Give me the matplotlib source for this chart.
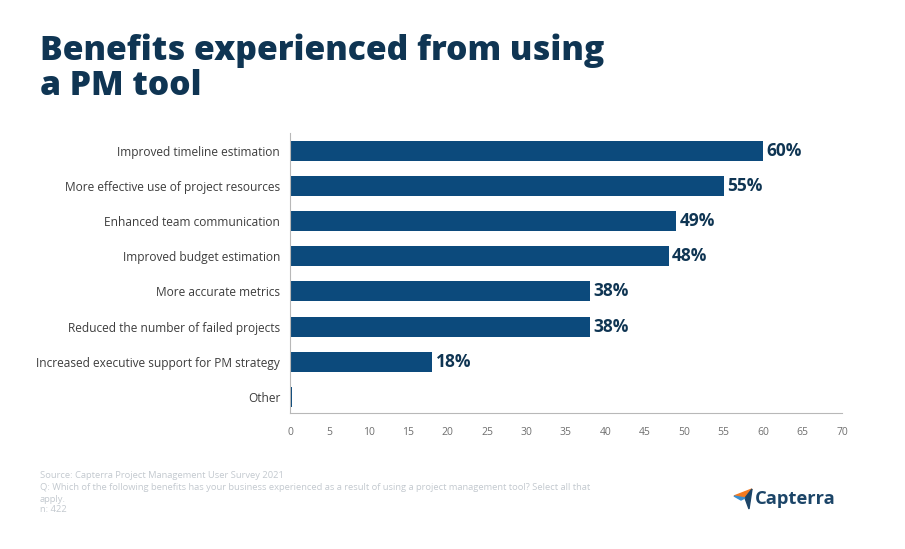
import matplotlib.pyplot as plt
from matplotlib.patches import Polygon

# Data
categories = [
    'Improved timeline estimation',
    'More effective use of project resources',
    'Enhanced team communication',
    'Improved budget estimation',
    'More accurate metrics',
    'Reduced the number of failed projects',
    'Increased executive support for PM strategy',
    'Other',
]
values = [60, 55, 49, 48, 38, 38, 18, 0.3]
value_labels = ['60%', '55%', '49%', '48%', '38%', '38%', '18%', '']
x_ticks = list(range(0, 75, 5))

NAVY = '#0f3553'
BAR = '#0c4a7c'
FONT = 'Open Sans'

plt.rcParams['font.family'] = [FONT, 'DejaVu Sans']

fig = plt.figure(figsize=(9.05, 5.49), dpi=100)
fig.patch.set_facecolor('white')

ax = fig.add_axes([0.3204, 0.2477, 0.61, 0.51])
y = list(range(len(categories)))
ax.barh(y, values, height=0.57, color=BAR)

for yi, v, lab in zip(y, values, value_labels):
    if lab:
        ax.text(v + 0.45, yi, lab, va='center', ha='left', fontsize=12.5,
                fontweight='bold', color=NAVY)

ax.set_xlim(0, 70)
ax.set_ylim(7.46, -0.51)
ax.set_xticks(x_ticks)
ax.set_yticks(y)
ax.set_yticklabels(categories, fontsize=8.6, color='#3d3d3d')
ax.tick_params(axis='x', labelsize=7.5, colors='#6f6f6f', length=0, pad=10)
ax.tick_params(axis='y', length=0, pad=7)

ax.spines['top'].set_visible(False)
ax.spines['right'].set_visible(False)
ax.spines['left'].set_color('#b8b8b8')
ax.spines['bottom'].set_color('#b8b8b8')
ax.spines['left'].set_linewidth(0.8)
ax.spines['bottom'].set_linewidth(0.8)

# Title
fig.text(40 / 905, 1 - 33 / 549, 'Benefits experienced from using\na PM tool',
         ha='left', va='top', fontsize=24.2, fontweight='heavy', color=NAVY,
         linespacing=1.05)

# Footnotes
notes = [
    (476, 'Source: Capterra Project Management User Survey 2021'),
    (488, 'Q: Which of the following benefits has your business experienced as a result of using a project management tool? Select all that'),
    (499, 'apply.'),
    (510, 'n: 422'),
]
for py, txt in notes:
    fig.text(40 / 905, 1 - py / 549, txt, ha='left', va='center',
             fontsize=6.75, color='#c3c9cf')

# Capterra logo
fig.text(755 / 905, 1 - 499 / 549, 'Capterra', ha='left', va='center',
         fontsize=13.2, fontweight='bold', color='#1c4568')
logo_orange = Polygon([(734 / 905, 1 - 496 / 549), (752 / 905, 1 - 489 / 549),
                       (745 / 905, 1 - 498 / 549)],
                      closed=True, color='#f47a20', transform=fig.transFigure)
logo_blue = Polygon([(745 / 905, 1 - 498 / 549), (752 / 905, 1 - 489 / 549),
                     (749 / 905, 1 - 509 / 549)],
                    closed=True, color='#1c4568', transform=fig.transFigure)
logo_light = Polygon([(734 / 905, 1 - 496 / 549), (745 / 905, 1 - 498 / 549),
                      (741 / 905, 1 - 500 / 549)],
                     closed=True, color='#3b8fd0', transform=fig.transFigure)
fig.patches.extend([logo_orange, logo_blue, logo_light])

fig.savefig('out.png', dpi=100, facecolor='white')
